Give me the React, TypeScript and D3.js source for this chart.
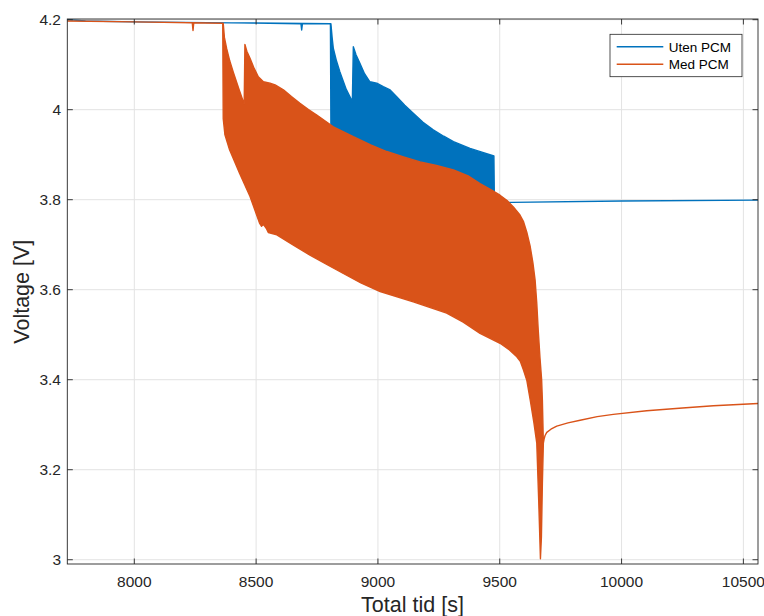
import React from "react";
import * as d3 from "d3";

// ---- data ----
// Each series is drawn as an envelope: top boundary and bottom boundary ([time s, voltage V]).
const utenUpper: [number, number][] = [
  [7725, 4.2], [7800, 4.197], [8000, 4.195], [8400, 4.193], [8805, 4.191],
  [8807, 4.191], [8812, 4.16], [8817, 4.136], [8830, 4.108], [8844, 4.084], [8870, 4.045], [8895, 4.018],
  [8899, 4.14], [8910, 4.122], [8926, 4.103], [8945, 4.08], [8967, 4.062], [8995, 4.059], [9022, 4.051],
  [9050, 4.044], [9077, 4.029], [9110, 4.01], [9145, 3.992], [9185, 3.972], [9227, 3.955], [9270, 3.941],
  [9310, 3.929], [9378, 3.914], [9430, 3.905], [9476, 3.897],
  [9478, 3.793], [9550, 3.794], [10000, 3.797], [10560, 3.799],
];
const utenLower: [number, number][] = [
  [7725, 4.2], [7800, 4.197], [8000, 4.195], [8400, 4.193], [8684, 4.191], [8687, 4.177],
  [8690, 4.191], [8805, 4.191], [8807, 3.962], [8899, 3.93], [9036, 3.895], [9173, 3.874],
  [9310, 3.855], [9419, 3.825], [9476, 3.806],
  [9478, 3.793], [9550, 3.794], [10000, 3.797], [10560, 3.799],
];
const medUpper: [number, number][] = [
  [7725, 4.197], [8000, 4.195], [8363, 4.192],
  [8365, 4.192], [8370, 4.16], [8379, 4.136], [8392, 4.108], [8406, 4.084], [8430, 4.045], [8451, 4.012],
  [8454, 4.145], [8462, 4.13], [8475, 4.114], [8490, 4.094], [8509, 4.073], [8530, 4.062], [8557, 4.059],
  [8578, 4.055], [8612, 4.044], [8645, 4.029], [8680, 4.014], [8715, 4.0], [8749, 3.988], [8817, 3.962],
  [8899, 3.94], [8970, 3.922], [9036, 3.907], [9105, 3.895], [9173, 3.884], [9240, 3.876], [9310, 3.866],
  [9370, 3.853], [9419, 3.836], [9465, 3.822], [9501, 3.81], [9530, 3.798], [9556, 3.784],
  [9583, 3.766], [9597, 3.752], [9611, 3.728], [9625, 3.696], [9636, 3.66], [9645, 3.622],
  [9652, 3.57], [9658, 3.51], [9665, 3.45], [9672, 3.399], [9675, 3.355], [9679, 3.259],
  [9682, 3.268], [9686, 3.276], [9693, 3.283], [9710, 3.29], [9734, 3.297], [9780, 3.304],
  [9830, 3.31], [9900, 3.318], [9966, 3.323], [10103, 3.331], [10250, 3.337], [10377, 3.342],
  [10560, 3.347],
];
const medLower: [number, number][] = [
  [7725, 4.197], [8000, 4.195], [8238, 4.193], [8241, 4.176], [8244, 4.193], [8363, 4.192],
  [8365, 3.98], [8372, 3.944], [8391, 3.911], [8432, 3.859], [8475, 3.807], [8514, 3.748],
  [8522, 3.741], [8530, 3.745], [8543, 3.735], [8550, 3.727], [8585, 3.722], [8653, 3.699],
  [8721, 3.677], [8790, 3.656], [8858, 3.636], [8930, 3.615], [9009, 3.596], [9145, 3.573],
  [9282, 3.548], [9350, 3.528], [9419, 3.503], [9501, 3.481], [9540, 3.466], [9570, 3.451],
  [9585, 3.44], [9597, 3.422], [9611, 3.399], [9625, 3.355], [9640, 3.305], [9652, 3.259],
  [9660, 3.13], [9667, 3.002], [9671, 3.05], [9675, 3.17], [9679, 3.259],
  [9682, 3.268], [9686, 3.276], [9693, 3.283], [9710, 3.29], [9734, 3.297], [9780, 3.304],
  [9830, 3.31], [9900, 3.318], [9966, 3.323], [10103, 3.331], [10250, 3.337], [10377, 3.342],
  [10560, 3.347],
];

const xTicks = [8000, 8500, 9000, 9500, 10000, 10500];
const yTicks = [3, 3.2, 3.4, 3.6, 3.8, 4, 4.2];
const seriesNames = ["Uten PCM", "Med PCM"];
const seriesColors = ["#0072BD", "#D95319"];

const W = 764;
const H = 616;
const L = 67.3, R = 758, T = 19, B = 564;
const FONT = "'Liberation Sans', Arial, Helvetica, sans-serif";
const AX = "#262626";

export default function App() {
  const x = d3.scaleLinear().domain([7725, 10560]).range([L, R]);
  const y = d3.scaleLinear().domain([2.9905, 4.2015]).range([B, T]);
  const line = d3.line<[number, number]>().x((d) => x(d[0])).y((d) => y(d[1]));
  const band = (up: [number, number][], lo: [number, number][]) =>
    (line(up.concat(lo.slice().reverse())) || "") + "Z";

  const bands = [band(utenUpper, utenLower), band(medUpper, medLower)];
  const tick = 5.5;

  return (
    <div style={{ position: "absolute", left: 0, top: 0 }}>
      <svg width={W} height={H} style={{ display: "block", background: "#fff" }}>
        <defs>
          <clipPath id="plotclip">
            <rect x={L} y={T - 1} width={R - L} height={B - T + 1} />
          </clipPath>
        </defs>
        {/* grid */}
        <g stroke="#e3e3e3" strokeWidth={1}>
          {xTicks.map((t) => (
            <line key={"gx" + t} x1={x(t)} x2={x(t)} y1={T} y2={B} />
          ))}
          {yTicks.map((t) => (
            <line key={"gy" + t} x1={L} x2={R} y1={y(t)} y2={y(t)} />
          ))}
        </g>
        {/* data */}
        <g clipPath="url(#plotclip)">
          {bands.map((d, i) => (
            <path
              key={i}
              d={d}
              fill={seriesColors[i]}
              stroke={seriesColors[i]}
              strokeWidth={1.4}
              strokeLinejoin="round"
            />
          ))}
        </g>
        {/* box */}
        <rect x={L} y={T} width={R - L} height={B - T} fill="none" stroke={AX} strokeWidth={0.9} />
        {/* ticks */}
        <g stroke={AX} strokeWidth={0.9}>
          {xTicks.map((t) => (
            <g key={"tx" + t}>
              <line x1={x(t)} x2={x(t)} y1={B} y2={B - tick} />
              <line x1={x(t)} x2={x(t)} y1={T} y2={T + tick} />
            </g>
          ))}
          {yTicks.map((t) => (
            <g key={"ty" + t}>
              <line x1={L} x2={L + tick} y1={y(t)} y2={y(t)} />
              <line x1={R} x2={R - tick} y1={y(t)} y2={y(t)} />
            </g>
          ))}
        </g>
        {/* tick labels */}
        <g fill={AX} fontFamily={FONT} fontSize={15.5}>
          {xTicks.map((t) => (
            <text key={"lx" + t} x={x(t)} y={586.7} textAnchor="middle">
              {t}
            </text>
          ))}
          {yTicks.map((t) => (
            <text key={"ly" + t} x={61} y={y(t) + 5.5} textAnchor="end">
              {d3.format("~g")(t)}
            </text>
          ))}
        </g>
        {/* axis labels */}
        <text x={412.5} y={612} textAnchor="middle" fontFamily={FONT} fontSize={21.5} fill={AX}>
          Total tid [s]
        </text>
        <text
          transform={`translate(28.5,291.7) rotate(-90)`}
          textAnchor="middle"
          fontFamily={FONT}
          fontSize={21.5}
          fill={AX}
        >
          Voltage [V]
        </text>
        {/* legend */}
        <g>
          <rect x={610} y={34.3} width={132} height={42.4} fill="#fff" stroke={AX} strokeWidth={0.8} />
          {seriesNames.map((n, i) => {
            const ly = 46.7 + i * 17.6;
            return (
              <g key={n}>
                <line x1={616.7} x2={663.3} y1={ly} y2={ly} stroke={seriesColors[i]} strokeWidth={1.5} />
                <text x={668.7} y={ly + 4.8} fontFamily={FONT} fontSize={13.5} fill="#000">
                  {n}
                </text>
              </g>
            );
          })}
        </g>
      </svg>
    </div>
  );
}
